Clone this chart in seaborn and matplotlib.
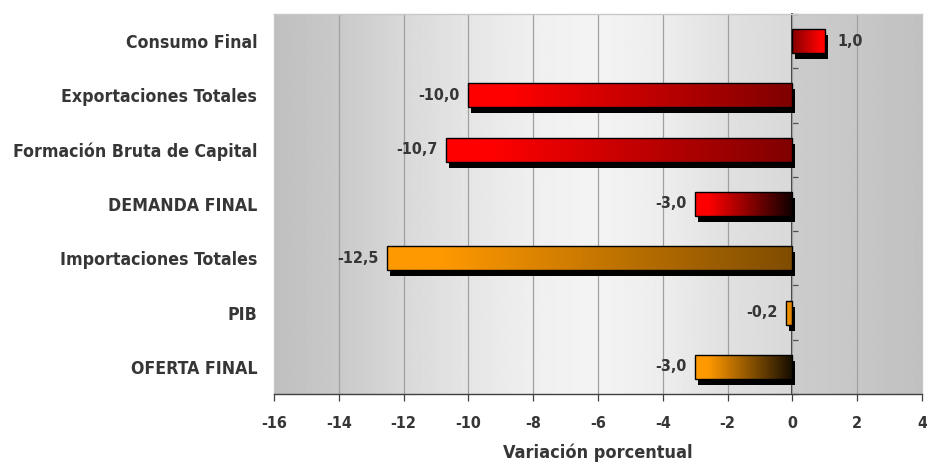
import numpy as np
import pandas as pd
import matplotlib
matplotlib.use("Agg")
import matplotlib.pyplot as plt
import matplotlib.transforms as mtransforms
from matplotlib.patches import Rectangle
import seaborn as sns

# data
categorias = ["Consumo Final", "Exportaciones Totales", "Formación Bruta de Capital",
              "DEMANDA FINAL", "Importaciones Totales", "PIB", "OFERTA FINAL"]
variacion = [1.0, -10.0, -10.7, -3.0, -12.5, -0.2, -3.0]
grupo = ["demanda", "demanda", "demanda", "demanda", "oferta", "oferta", "oferta"]
x_ticks = [-16, -14, -12, -10, -8, -6, -4, -2, 0, 2, 4]

# styles
colores = {"demanda": (1.0, 0.0, 0.0), "oferta": (1.0, 0.6, 0.0)}
sombra_base = [0.52, 0.5, 0.5, 0.06, 0.5, 0.8, 0.08]   # brightness at the zero end
txt_color = "#363636"

sns.set_theme(style="white")
plt.rcParams["font.family"] = ["DejaVu Sans"]
plt.rcParams["font.stretch"] = "condensed"
plt.rcParams["font.weight"] = "bold"

df = pd.DataFrame({"cat": categorias, "val": variacion, "grp": grupo})

fig = plt.figure(figsize=(9.27, 4.66), dpi=100)
ax = fig.add_axes([0.2956, 0.1545, 0.699, 0.8155])

sns.barplot(data=df, y="cat", x="val", orient="h", width=0.44, ax=ax,
            color="white", edgecolor="black", linewidth=1.0, zorder=3)

# background gradient
xs = np.linspace(-16, 4, 800)
knots_x = [-16, -14, -12, -10, -8, -6, -4, -2, -0.001, 0.001, 2, 4]
knots_v = [0.75, 0.79, 0.85, 0.90, 0.94, 0.955, 0.93, 0.88, 0.85, 0.80, 0.78, 0.755]
bg = np.interp(xs, knots_x, knots_v)
ax.imshow(np.tile(bg, (2, 1)), cmap="gray", vmin=0, vmax=1, aspect="auto",
          extent=[-16, 4, 6.5, -0.5], zorder=0, interpolation="bilinear")

for x in x_ticks:
    ax.axvline(x, color="#a0a0a0", lw=0.9, zorder=1)

# gradient bars + shadow
shadow_tr = mtransforms.offset_copy(ax.transData, fig=fig, x=3, y=-6, units="dots")
for i, p in enumerate(ax.patches[:len(variacion)]):
    x0, y0 = p.get_x(), p.get_y()
    w, h = p.get_width(), p.get_height()
    base = np.array(colores[grupo[i]])
    t = np.linspace(0, 1, 200)  # 0 at zero end, 1 at tip
    shade = sombra_base[i] + (1 - sombra_base[i]) * np.clip(t * 1.15, 0, 1)
    img = base[None, :] * shade[:, None]
    if w < 0:
        img = img[::-1]
        ext = [x0 + w, x0, y0 + h, y0]
    else:
        ext = [x0, x0 + w, y0 + h, y0]
    ax.add_patch(Rectangle((x0, y0), w, h, transform=shadow_tr, facecolor="black",
                           edgecolor="none", zorder=2))
    ax.imshow(img[None, :, :], aspect="auto", extent=ext, zorder=3.5,
              interpolation="bilinear")
    p.set_facecolor("none")
    p.set_zorder(4)
    lbl = f"{variacion[i]:.1f}".replace(".", ",")
    if variacion[i] < 0:
        ax.annotate(lbl, (x0 + w, y0 + h / 2), xytext=(-6, 0), textcoords="offset points",
                    ha="right", va="center", fontsize=11.5, color=txt_color, fontweight="bold")
    else:
        ax.annotate(lbl, (x0 + w, y0 + h / 2), xytext=(9, 0), textcoords="offset points",
                    ha="left", va="center", fontsize=11.5, color=txt_color, fontweight="bold")

ax.set_xlim(-16, 4)
ax.set_ylim(6.5, -0.5)
ax.set_xticks(x_ticks)
ax.set_xticklabels([str(x) for x in x_ticks])
ax.tick_params(axis="x", direction="out", length=5, width=0.9, color="#404040",
               labelsize=11.5, labelcolor=txt_color, pad=11, bottom=True)
ax.tick_params(axis="y", length=0, labelsize=12.7, labelcolor=txt_color, pad=12)
for lab in ax.get_xticklabels() + ax.get_yticklabels():
    lab.set_fontweight("bold")
ax.set_ylabel("")
ax.set_xlabel("Variación porcentual", fontsize=13, fontweight="bold", color=txt_color, labelpad=9)

for s in ["top", "left", "right"]:
    ax.spines[s].set_color("#c8c8c8")
    ax.spines[s].set_linewidth(1.0)
ax.spines["bottom"].set_color("#404040")
ax.spines["bottom"].set_linewidth(1.0)

# vertical axis at zero with ticks between categories
sec = ax.secondary_yaxis(16 / 20)
sec.set_yticks(np.arange(-0.5, len(categorias), 1.0))
sec.set_yticklabels([])
sec.tick_params(axis="y", direction="out", length=4, width=0.9, color="#505050")
sec.spines["left"].set_color("#505050")
sec.spines["left"].set_linewidth(1.0)

fig.savefig("out.png", dpi=100)
